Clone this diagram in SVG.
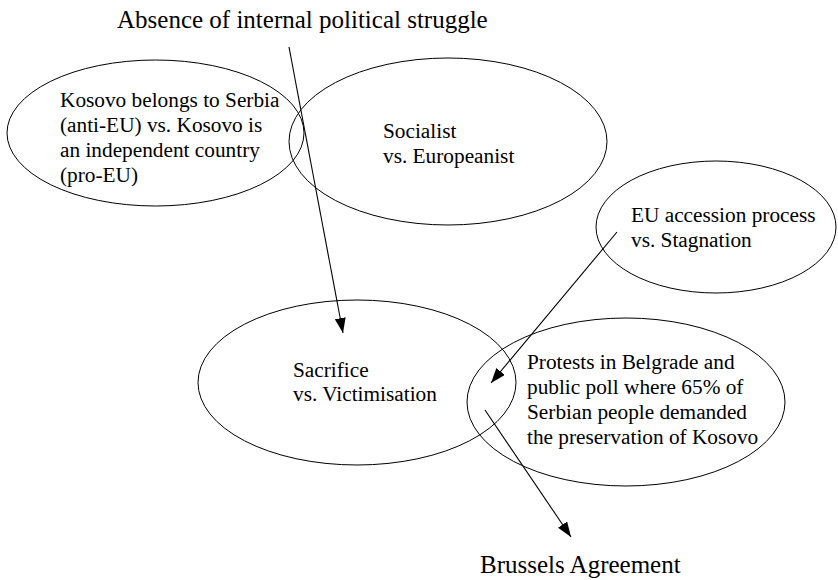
<svg xmlns="http://www.w3.org/2000/svg" width="838" height="580" viewBox="0 0 838 580">
<style>
.e{fill:none;stroke:#000;stroke-width:1}
.t{font-size:21.3px;fill:#000}
.h{font-size:25px;fill:#000}
.c{stroke:#000;stroke-width:1.1;fill:none;marker-end:url(#ah)}
</style>
<defs>
<marker id="ah" markerUnits="userSpaceOnUse" markerWidth="16" markerHeight="12" refX="15" refY="5.5" orient="auto">
<path d="M0,0 L15,5.5 L0,11 z" fill="#000"/>
</marker>
</defs>
<rect width="838" height="580" fill="#fff"/>
<g font-family="'Liberation Serif', 'Times New Roman', 'DejaVu Serif', serif">
<g id="title"><text class="h" x="117" y="28">Absence of internal political struggle</text></g>
<g id="kosovo">
<ellipse class="e" cx="155.5" cy="133" rx="148.5" ry="73"/>
<text class="t" x="60" y="107">Kosovo belongs to Serbia</text>
<text class="t" x="60" y="132">(anti-EU) vs. Kosovo is</text>
<text class="t" x="60" y="157">an independent country</text>
<text class="t" x="60" y="182">(pro-EU)</text>
</g>
<g id="socialist">
<ellipse class="e" cx="448" cy="141.5" rx="159" ry="83.5"/>
<text class="t" x="383" y="138">Socialist</text>
<text class="t" x="383" y="163">vs. Europeanist</text>
</g>
<g id="eu">
<ellipse class="e" cx="716" cy="227" rx="120" ry="66"/>
<text class="t" x="631" y="222">EU accession process</text>
<text class="t" x="631" y="247">vs. Stagnation</text>
</g>
<g id="sacrifice">
<ellipse class="e" cx="357" cy="382.5" rx="159" ry="82.5"/>
<text class="t" x="293" y="377">Sacrifice</text>
<text class="t" x="293" y="401">vs. Victimisation</text>
</g>
<g id="protests">
<ellipse class="e" cx="626" cy="402" rx="159" ry="84"/>
<text class="t" x="527" y="369">Protests in Belgrade and</text>
<text class="t" x="527" y="394">public poll where 65% of</text>
<text class="t" x="527" y="419">Serbian people demanded</text>
<text class="t" x="527" y="444">the preservation of Kosovo</text>
</g>
<g id="brussels"><text class="h" x="480" y="573">Brussels Agreement</text></g>
</g>
<g id="connectors">
<line class="c" x1="289" y1="47" x2="343" y2="333"/>
<line class="c" x1="617" y1="232" x2="491" y2="383"/>
<line class="c" x1="485" y1="410" x2="571" y2="537"/>
</g>
</svg>
